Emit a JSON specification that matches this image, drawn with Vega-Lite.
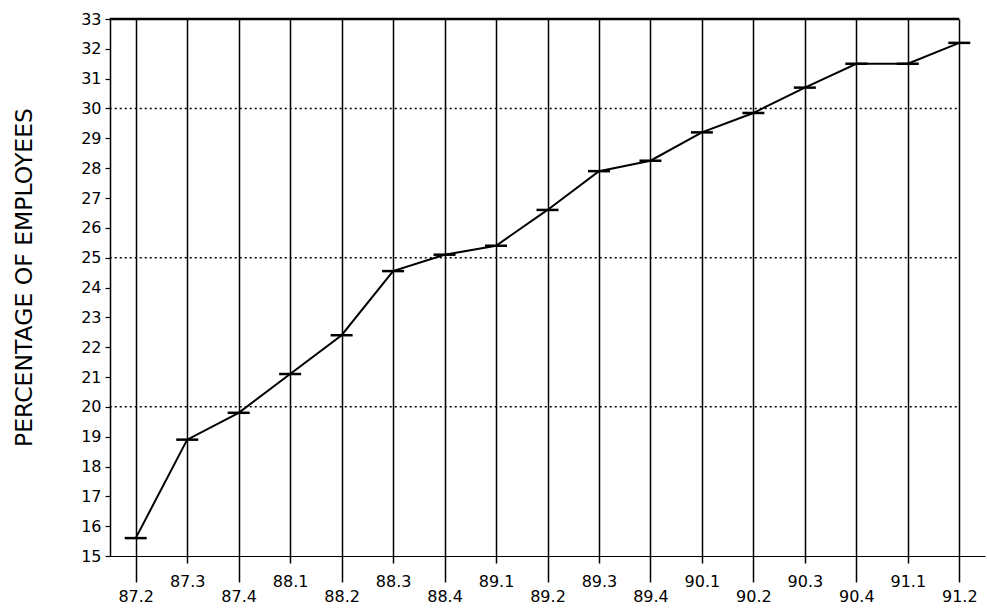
{
  "$schema": "https://vega.github.io/schema/vega-lite/v6.json",
  "width": 875,
  "height": 537,
  "autosize": "none",
  "padding": {"left": 110, "top": 19, "right": 2, "bottom": 56},
  "background": "white",
  "data": {
    "values": [
      {"quarter": "87.2", "pct": 15.6},
      {"quarter": "87.3", "pct": 18.9},
      {"quarter": "87.4", "pct": 19.8},
      {"quarter": "88.1", "pct": 21.1},
      {"quarter": "88.2", "pct": 22.4},
      {"quarter": "88.3", "pct": 24.55},
      {"quarter": "88.4", "pct": 25.1},
      {"quarter": "89.1", "pct": 25.4},
      {"quarter": "89.2", "pct": 26.6},
      {"quarter": "89.3", "pct": 27.9},
      {"quarter": "89.4", "pct": 28.25},
      {"quarter": "90.1", "pct": 29.2},
      {"quarter": "90.2", "pct": 29.85},
      {"quarter": "90.3", "pct": 30.7},
      {"quarter": "90.4", "pct": 31.5},
      {"quarter": "91.1", "pct": 31.5},
      {"quarter": "91.2", "pct": 32.2}
    ]
  },
  "resolve": {"axis": {"x": "independent", "y": "independent"}},
  "layer": [
    {
      "mark": {"type": "line", "color": "black", "strokeWidth": 2},
      "encoding": {
        "x": {
          "field": "quarter",
          "type": "nominal",
          "sort": null,
          "scale": {
            "type": "point",
            "padding": 0.5,
            "domain": ["87.2", "87.3", "87.4", "88.1", "88.2", "88.3", "88.4", "89.1", "89.2", "89.3", "89.4", "90.1", "90.2", "90.3", "90.4", "91.1", "91.2"]
          },
          "axis": {
            "orient": "bottom",
            "title": null,
            "labelAngle": 0,
            "labelFontSize": 16,
            "labelColor": "black",
            "labelBaseline": "top",
            "labelOverlap": false,
            "grid": true,
            "gridColor": "black",
            "gridWidth": 1.5,
            "gridOpacity": 1,
            "domainColor": "black",
            "domainWidth": 1.2,
            "tickColor": "black",
            "tickWidth": 1.5,
            "tickSize": {
              "condition": {"test": "indexof(['87.3','88.1','88.3','89.1','89.3','90.1','90.3','91.1'], datum.value) >= 0", "value": 7},
              "value": 26
            },
            "labelPadding": {
              "condition": {"test": "indexof(['87.3','88.1','88.3','89.1','89.3','90.1','90.3','91.1'], datum.value) >= 0", "value": 10},
              "value": 6
            }
          }
        },
        "y": {
          "field": "pct",
          "type": "quantitative",
          "scale": {"domain": [15, 33], "nice": false, "zero": false},
          "axis": {
            "orient": "left",
            "title": "PERCENTAGE OF EMPLOYEES",
            "titleFontSize": 23.5,
            "titleFontWeight": "normal",
            "titleColor": "black",
            "titleAngle": 270,
            "titleAlign": "center",
            "titleBaseline": "middle",
            "titleX": -86,
            "titleY": 258,
            "values": [15, 16, 17, 18, 19, 20, 21, 22, 23, 24, 25, 26, 27, 28, 29, 30, 31, 32, 33],
            "labelOverlap": false,
            "labelFontSize": 16,
            "labelColor": "black",
            "labelPadding": 4,
            "grid": false,
            "domainColor": "black",
            "domainWidth": 1.5,
            "tickColor": "black",
            "tickSize": 5,
            "tickWidth": 1.2
          }
        }
      }
    },
    {
      "data": {"values": [{"level": 20}, {"level": 25}, {"level": 30}]},
      "mark": {"type": "rule", "color": "black", "strokeWidth": 1.5, "strokeDash": [2, 3], "xOffset": -26},
      "encoding": {
        "x": {"datum": "87.2", "type": "nominal", "axis": null},
        "x2": {"datum": "91.2"},
        "y": {"field": "level", "type": "quantitative", "axis": null}
      }
    },
    {
      "data": {"values": [{"level": 33}]},
      "mark": {"type": "rule", "color": "black", "strokeWidth": 2.5, "xOffset": -26},
      "encoding": {
        "x": {"datum": "87.2", "type": "nominal", "axis": null},
        "x2": {"datum": "91.2"},
        "y": {"field": "level", "type": "quantitative", "axis": null}
      }
    },
    {
      "mark": {"type": "tick", "color": "black", "opacity": 1, "thickness": 2.5, "size": 22, "orient": "horizontal"},
      "encoding": {
        "x": {"field": "quarter", "type": "nominal", "sort": null, "axis": null},
        "y": {"field": "pct", "type": "quantitative", "axis": null}
      }
    }
  ],
  "config": {
    "font": "DejaVu Sans",
    "view": {"stroke": null}
  }
}
